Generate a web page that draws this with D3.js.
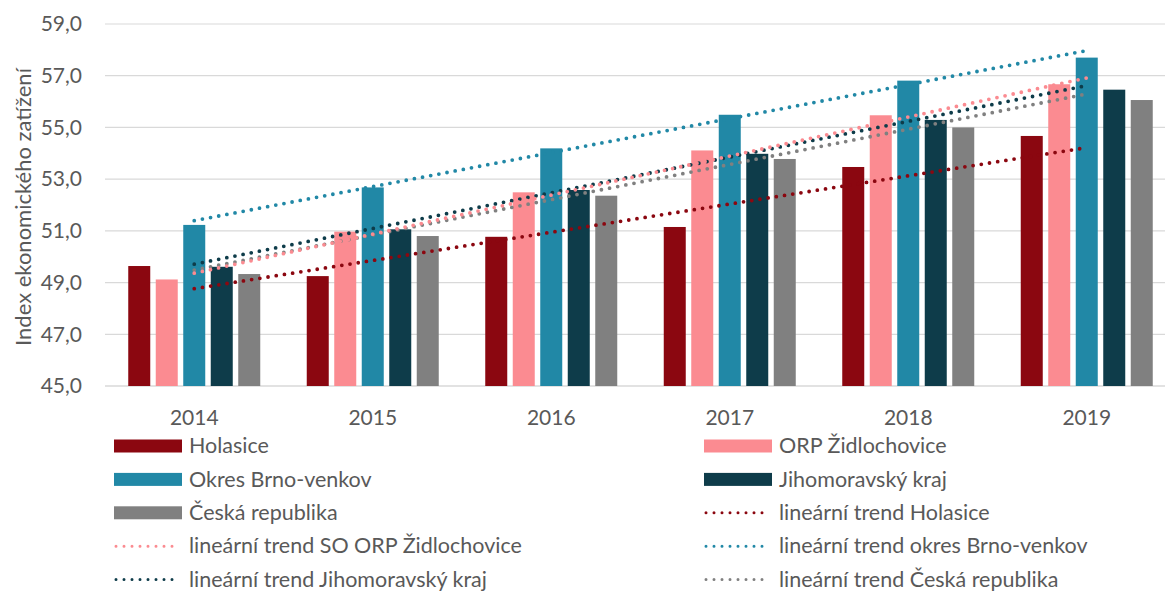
<!DOCTYPE html>
<html>
<head>
<meta charset="utf-8">
<script src="https://cdn.jsdelivr.net/npm/d3@7"></script>
<style>
  body { margin: 0; background: #fff; }
  text { font-family: Lato, "Open Sans", sans-serif; fill: #595959; }
</style>
</head>
<body>
<div id="chart"></div>
<script>
// data
const years = ["2014", "2015", "2016", "2017", "2018", "2019"];
const seriesNames = ["Holasice", "ORP Židlochovice", "Okres Brno-venkov", "Jihomoravský kraj", "Česká republika"];
const trendNames = ["lineární trend Holasice", "lineární trend SO ORP Židlochovice", "lineární trend okres Brno-venkov", "lineární trend Jihomoravský kraj", "lineární trend Česká republika"];
const colors = ["#8b0710", "#fb8b91", "#2188a6", "#0e3c4a", "#808080"];

const holasice = [49.64, 49.25, 50.77, 51.15, 53.47, 54.67];
const orpZidlochovice = [49.12, 50.97, 52.49, 54.11, 55.47, 56.67];
const okresBrnoVenkov = [51.23, 52.68, 54.19, 55.49, 56.81, 57.70];
const jihomoravskyKraj = [49.61, 51.06, 52.58, 53.98, 55.29, 56.46];
const ceskaRepublika = [49.33, 50.80, 52.36, 53.78, 55.00, 56.06];
const yTicks = [45, 47, 49, 51, 53, 55, 57, 59];

const values = [holasice, orpZidlochovice, okresBrnoVenkov, jihomoravskyKraj, ceskaRepublika];

const W = 1165, H = 594;
const svg = d3.select("#chart").append("svg")
  .attr("width", W)
  .attr("height", H);

const x = d3.scaleBand().domain(years).range([105, 1176]);
const xi = d3.scaleBand().domain(d3.range(5)).range([0, 137.5]).paddingInner(0.2).paddingOuter(0.1);
const y = d3.scaleLinear().domain([45, 59]).range([386, 24]);
const fmt = v => d3.format(".1f")(v).replace(".", ",");

// gridlines
svg.append("g")
  .selectAll("line")
  .data(yTicks)
  .enter()
  .append("line")
  .attr("x1", 105).attr("x2", W)
  .attr("y1", d => y(d)).attr("y2", d => y(d))
  .attr("stroke", "#d9d9d9")
  .attr("stroke-width", d => d === 45 ? 1.5 : 1.2);

// y axis labels
svg.append("g")
  .selectAll("text")
  .data(yTicks)
  .enter()
  .append("text")
  .attr("x", 82)
  .attr("y", d => y(d))
  .attr("dy", "0.35em")
  .attr("text-anchor", "end")
  .style("font-size", "21px")
  .text(fmt);

svg.append("text")
  .attr("transform", "translate(23," + 207 + ") rotate(-90)")
  .attr("text-anchor", "middle")
  .attr("dy", "0.35em")
  .style("font-size", "22px")
  .text("Index ekonomického zatížení");

// x labels
svg.append("g")
  .selectAll("text")
  .data(years)
  .enter()
  .append("text")
  .attr("x", d => x(d) + x.bandwidth() / 2)
  .attr("y", 418)
  .attr("dy", "0.35em")
  .attr("text-anchor", "middle")
  .style("font-size", "21px")
  .text(d => d);

// bars
const groupOffset = x.bandwidth() / 2 - 137.5 / 2;
values.forEach((vals, s) => {
  svg.append("g")
    .selectAll("rect")
    .data(vals)
    .enter()
    .append("rect")
    .attr("x", (d, i) => x(years[i]) + groupOffset + xi(s))
    .attr("width", xi.bandwidth())
    .attr("y", d => y(d))
    .attr("height", d => y(45) - y(d))
    .attr("fill", colors[s]);
});

// linear trends (least squares fit of each series)
const fit = vals => {
  const n = vals.length;
  const mx = d3.mean(d3.range(n)), my = d3.mean(vals);
  const sxy = d3.sum(vals, (v, i) => (i - mx) * (v - my));
  const sxx = d3.sum(d3.range(n), i => (i - mx) * (i - mx));
  const b = sxy / sxx;
  return [[0, my - b * mx], [n - 1, my + b * (n - 1 - mx)]];
};
const line = d3.line()
  .x(d => x(years[d[0]]) + x.bandwidth() / 2)
  .y(d => y(d[1]));
const dotted = sel => sel
  .attr("fill", "none")
  .attr("stroke-width", 3.8)
  .attr("stroke-linecap", "round")
  .attr("stroke-dasharray", "0 8.3");

[4, 3, 1, 0, 2].forEach(s => {
  svg.append("path")
    .attr("d", line(fit(values[s])))
    .attr("stroke", colors[s])
    .call(dotted);
});

// legend
const legendItems = [];
seriesNames.forEach((n, i) => legendItems.push({ name: n, color: colors[i], type: "bar" }));
trendNames.forEach((n, i) => legendItems.push({ name: n, color: colors[i], type: "trend" }));

const leg = svg.append("g")
  .selectAll("g")
  .data(legendItems)
  .enter()
  .append("g")
  .attr("transform", (d, i) => "translate(" + (i % 2 === 0 ? 114 : 704) + "," + (446 + Math.floor(i / 2) * 33.4) + ")");

leg.filter(d => d.type === "bar")
  .append("rect")
  .attr("x", 0).attr("y", -6.5)
  .attr("width", 68).attr("height", 13)
  .attr("fill", d => d.color);

leg.filter(d => d.type === "trend")
  .append("line")
  .attr("x1", 2).attr("x2", 66)
  .attr("y1", 0).attr("y2", 0)
  .attr("stroke", d => d.color)
  .call(dotted)
  .attr("stroke-width", 3)
  .attr("stroke-dasharray", "0 8");

leg.append("text")
  .attr("x", 75)
  .attr("dy", "0.33em")
  .style("font-size", "21.5px")
  .text(d => d.name);
</script>
</body>
</html>
